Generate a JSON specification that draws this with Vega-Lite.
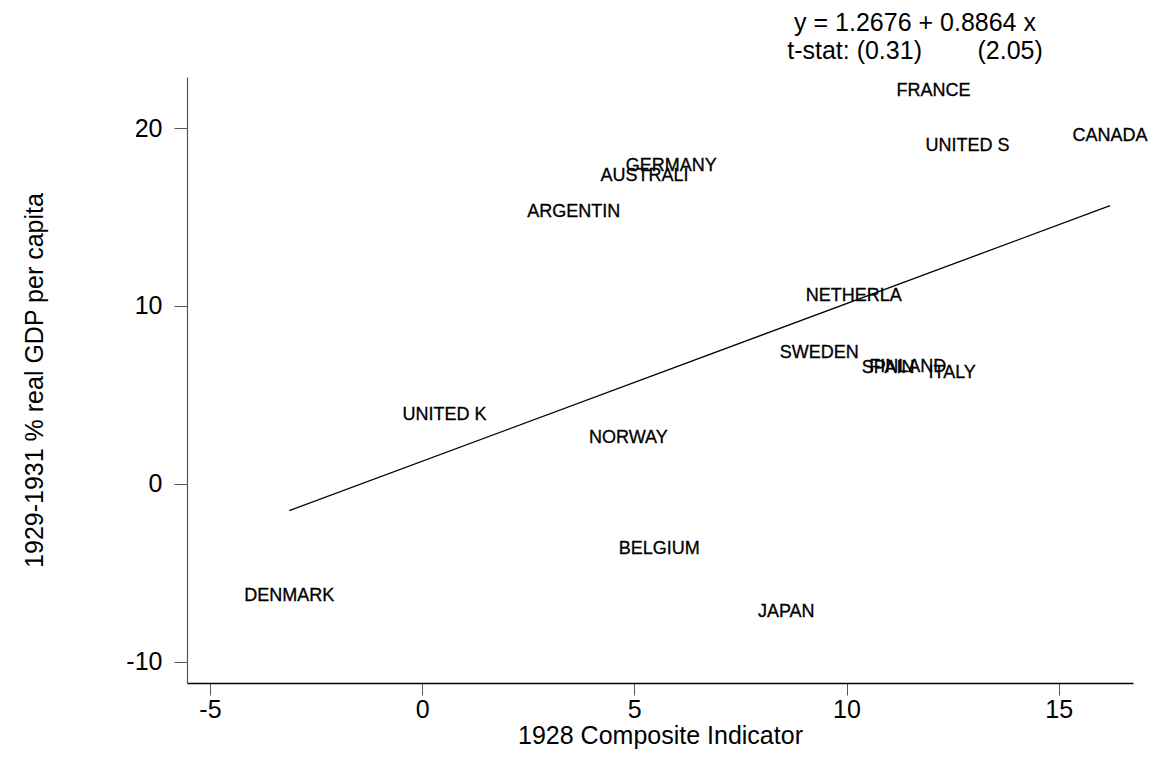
{
  "$schema": "https://vega.github.io/schema/vega-lite/v6.json",
  "width": 946,
  "height": 606,
  "autosize": {"type": "none"},
  "padding": {"left": 187, "top": 77, "right": 20, "bottom": 84},
  "background": "white",
  "config": {
    "view": {"stroke": null},
    "font": "Liberation Sans",
    "axis": {"grid": false, "labelFont": "Liberation Sans", "titleFont": "Liberation Sans", "labelFontSize": 25, "titleFontSize": 25, "labelColor": "black", "titleColor": "black", "titleFontWeight": "normal", "tickColor": "#555555", "tickWidth": 1, "labelExpr": "replace(datum.label, '\u2212', '-')"}
  },
  "title": {
    "text": ["y = 1.2676 + 0.8864 x", "t-stat: (0.31)\u00a0\u00a0\u00a0\u00a0\u00a0\u00a0\u00a0\u00a0(2.05)\u00a0\u00a0\u00a0\u00a0"],
    "font": "Liberation Sans",
    "fontSize": 25,
    "fontWeight": "normal",
    "color": "black",
    "anchor": "middle",
    "dx": 255,
    "lineHeight": 28,
    "offset": 13
  },
  "datasets": {
    "countries": [
      {"country": "FRANCE", "ci": 12.05, "gdp": 22.06},
      {"country": "UNITED S", "ci": 12.85, "gdp": 18.97},
      {"country": "CANADA", "ci": 16.21, "gdp": 19.53},
      {"country": "GERMANY", "ci": 5.87, "gdp": 17.84},
      {"country": "AUSTRALI", "ci": 5.24, "gdp": 17.32},
      {"country": "ARGENTIN", "ci": 3.57, "gdp": 15.27},
      {"country": "NETHERLA", "ci": 10.17, "gdp": 10.57},
      {"country": "SWEDEN", "ci": 9.36, "gdp": 7.37},
      {"country": "SPAIN", "ci": 10.98, "gdp": 6.51},
      {"country": "FINLAND", "ci": 11.44, "gdp": 6.58},
      {"country": "ITALY", "ci": 12.49, "gdp": 6.23},
      {"country": "UNITED K", "ci": 0.53, "gdp": 3.88},
      {"country": "NORWAY", "ci": 4.86, "gdp": 2.57},
      {"country": "BELGIUM", "ci": 5.59, "gdp": -3.66},
      {"country": "DENMARK", "ci": -3.13, "gdp": -6.33},
      {"country": "JAPAN", "ci": 8.58, "gdp": -7.22}
    ],
    "fit": [
      {"ci": -3.13, "gdp": -1.507},
      {"ci": 16.21, "gdp": 15.636}
    ]
  },
  "encoding": {
    "x": {
      "field": "ci", "type": "quantitative",
      "scale": {"domain": [-5.54, 16.75], "nice": false, "zero": false},
      "axis": {"title": "1928 Composite Indicator", "values": [-5, 0, 5, 10, 15], "domainColor": "black", "domainWidth": 1.4, "tickSize": 12, "labelPadding": 2, "titlePadding": 1}
    },
    "y": {
      "field": "gdp", "type": "quantitative",
      "scale": {"domain": [-11.2, 22.87], "nice": false, "zero": false},
      "axis": {"title": "1929-1931 % real GDP per capita", "values": [-10, 0, 10, 20], "domainColor": "#555555", "domainWidth": 1.2, "tickSize": 13, "labelPadding": 12, "titlePadding": 78}
    }
  },
  "layer": [
    {
      "data": {"name": "fit"},
      "mark": {"type": "line", "color": "black", "strokeWidth": 1.3},
      "encoding": {}
    },
    {
      "data": {"name": "countries"},
      "mark": {"type": "text", "align": "center", "baseline": "middle", "fontSize": 18, "font": "Liberation Sans", "color": "black", "stroke": "black", "strokeWidth": 0.3},
      "encoding": {"text": {"field": "country", "type": "nominal"}}
    }
  ]
}
